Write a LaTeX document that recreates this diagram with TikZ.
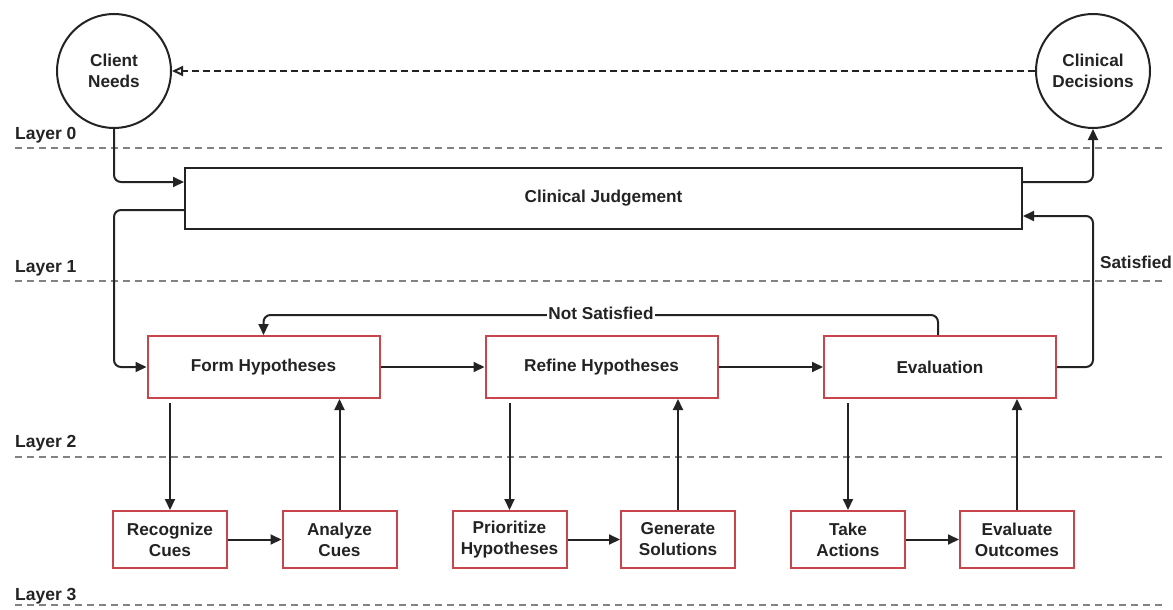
\documentclass[tikz,border=0pt]{standalone}
\usepackage{fontspec}
\setmainfont{Liberation Sans}
\usetikzlibrary{arrows.meta,calc}
\definecolor{boxred}{RGB}{200,70,75}
\definecolor{ink}{RGB}{35,35,35}
\definecolor{layergray}{RGB}{130,130,130}
\tikzset{
  txt/.style={font=\fontsize{17.2}{21}\selectfont\bfseries, text=ink, align=center},
  bigbox/.style={txt, draw=boxred, line width=2pt, rectangle, minimum width=232pt, minimum height=62pt, inner sep=0pt},
  smallbox/.style={txt, draw=boxred, line width=2pt, rectangle, minimum width=114pt, minimum height=57pt, inner sep=0pt},
  judgebox/.style={txt, draw=ink, line width=2pt, rectangle, minimum width=837pt, minimum height=61pt, inner sep=0pt},
  circ/.style={txt, draw=ink, line width=2pt, circle, minimum size=114pt, inner sep=0pt},
  conn/.style={draw=ink, line width=2pt, rounded corners=7pt, -{Triangle[length=11pt,width=10pt]}},
  layerline/.style={draw=layergray, line width=1.6pt, dash pattern=on 7pt off 5pt},
  layerlabel/.style={font=\fontsize{17.5}{21}\selectfont\bfseries, text=ink, anchor=west, inner sep=0pt},
  lbl/.style={txt, inner sep=1pt}
}
\begin{document}
\begin{tikzpicture}[x=1pt,y=-1pt]
\useasboundingbox (0,0) rectangle (1173,610);
% layer lines
\foreach \yy in {148,281,457,605} \draw[layerline] (15,\yy) -- (1165,\yy);
\node[layerlabel] (l0) at (15,135) {Layer 0};
\node[layerlabel] (l1) at (15,268) {Layer 1};
\node[layerlabel] (l2) at (15,443) {Layer 2};
\node[layerlabel] (l3) at (15,596) {Layer 3};
% circles
\node[circ] (cn) at (114,71) {Client\\Needs};
\node[circ] (cd) at (1093,71) {Clinical\\Decisions};
% judgement
\node[judgebox] (cj) at (603.5,198.5) {Clinical Judgement};
% big boxes
\node[bigbox] (form) at (263.5,367) {Form Hypotheses};
\node[bigbox] (refine) at (601.5,367) {Refine Hypotheses};
\node[bigbox] (eval) at (940,367) {Evaluation};
% small boxes
\node[smallbox] (rec) at (170,539.5) {Recognize\\Cues};
\node[smallbox] (ana) at (339.5,539.5) {Analyze\\Cues};
\node[smallbox] (pri) at (509.5,539.5) {Prioritize\\Hypotheses};
\node[smallbox] (gen) at (678,539.5) {Generate\\Solutions};
\node[smallbox] (take) at (848,539.5) {Take\\Actions};
\node[smallbox] (evo) at (1017,539.5) {Evaluate\\Outcomes};
% coordinates on judgement box
\coordinate (cjinL) at (cj.west |- 0,182);
\coordinate (cjoutL) at (cj.west |- 0,210);
\coordinate (cjoutR) at (cj.east |- 0,182);
\coordinate (cjinR) at (cj.east |- 0,216);
\coordinate (nsmid) at (601.5,315);
% top dashed arrow
\draw[draw=ink, line width=2pt, dash pattern=on 7pt off 4pt, -{Triangle[open,length=11pt,width=10pt]}] (cd.west) -- (cn.east);
% connectors
\draw[conn] (cn.south) |- (cjinL);
\draw[conn] (cjoutL) -| ($(cn.south)+(0,100)$) |- (form.west);
\draw[conn] (cjoutR) -| (cd.south);
\draw[conn] (eval.east) -| ($(cd.south |- cjinR)$) -- (cjinR);
\node[lbl, anchor=west] (sat) at (1099,262) {Satisfied};
\draw[conn] ([xshift=-2pt]eval.north) |- (nsmid) -| (form.north);
\node[lbl, fill=white, inner xsep=1pt] (ns) at (601,313) {Not Satisfied};
\draw[conn] (form.east) -- (refine.west);
\draw[conn] (refine.east) -- (eval.west);
% down / up
\draw[conn] ([yshift=-4pt]form.south -| rec.north) -- (rec.north);
\draw[conn] (ana.north) -- (ana.north |- form.south);
\draw[conn] ([yshift=-4pt]refine.south -| pri.north) -- (pri.north);
\draw[conn] (gen.north) -- (gen.north |- refine.south);
\draw[conn] ([yshift=-4pt]eval.south -| take.north) -- (take.north);
\draw[conn] (evo.north) -- (evo.north |- eval.south);
% horizontal small
\draw[conn] (rec.east) -- (ana.west);
\draw[conn] (pri.east) -- (gen.west);
\draw[conn] (take.east) -- (evo.west);
\end{tikzpicture}
\end{document}
